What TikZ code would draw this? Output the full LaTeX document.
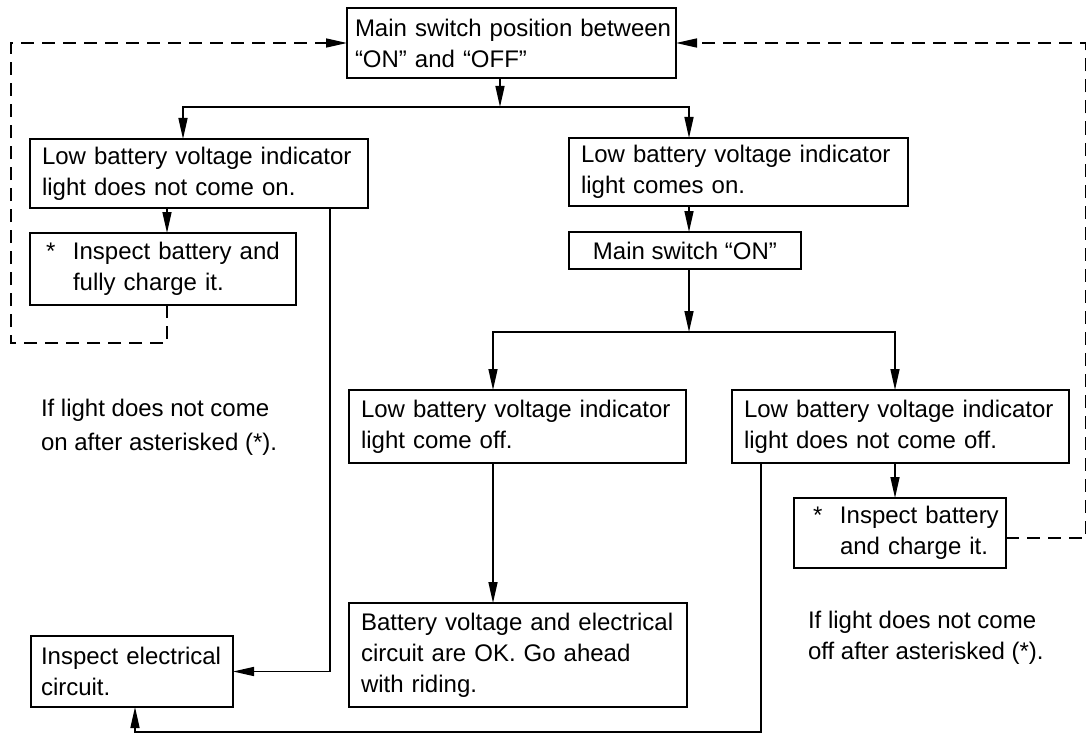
\documentclass[tikz,border=0pt]{standalone}
\usepackage{fontspec}
\setmainfont{Liberation Sans}
\usetikzlibrary{arrows.meta}
\tikzset{
every node/.style={font=\fontsize{24}{31}\selectfont, outer sep=0pt},
box/.style={rectangle, draw, line width=1.5pt, align=left, inner xsep=12pt, inner ysep=2pt},
arr/.style={line width=1.5pt, -{Triangle[length=21pt,width=9pt]}},
dasharr/.style={arr, dash pattern=on 13pt off 8pt}
}

\begin{document}
\begin{tikzpicture}[x=1pt, y=-1pt]
\useasboundingbox (0,0) rectangle (1086,733);

\node [box, text width=313pt, inner xsep=8pt, minimum height=70pt] (main) at (511.5,43) {\mbox{Main switch position between}\\``ON'' and ``OFF''};
\node [box, text width=314pt, minimum height=69pt] (noton) at (199,173.5) {Low battery voltage indicator\\light does not come on.};
\node [box, text width=242pt, minimum height=72pt] (chgA) at (163,269) {\hspace*{4pt}\makebox[27pt][l]{*}Inspect battery and\\\hspace*{31pt}fully charge it.};
\node [box, text width=315pt, minimum height=68pt] (comeson) at (738.5,172) {Low battery voltage indicator\\light comes on.};
\node [box, align=center, minimum width=232pt, minimum height=37pt] (swon) at (685,250.5) {Main switch ``ON''};
\node [box, text width=313pt, minimum height=73pt] (comeoff) at (517.5,426.5) {Low battery voltage indicator\\light come off.};
\node [box, text width=313pt, minimum height=73pt] (notoff) at (900.5,426.5) {Low battery voltage indicator\\light does not come off.};
\node [box, text width=200pt, inner xsep=6pt, minimum height=70pt] (chgB) at (900,533) {\hspace*{13pt}\makebox[27pt][l]{*}Inspect battery\\\hspace*{40pt}and charge it.};
\node [box, text width=314pt, minimum height=104pt] (okride) at (518,655) {Battery voltage and electrical\\circuit are OK. Go ahead\\with riding.};
\node [box, text width=182pt, inner xsep=10pt, minimum height=71pt] (elec) at (132,671.5) {Inspect electrical\\circuit.};
\node [anchor=north west, align=left, inner sep=0pt] (noteA) at (41,399) {If light does not come\\[3pt]on after asterisked (*).};
\node [anchor=north west, align=left, inner sep=0pt] (noteB) at (808,611) {If light does not come\\off after asterisked (*).};

\coordinate (j1) at (500,107);
\coordinate (j2) at (689,332);
\coordinate (loopA) at (11,343);
\coordinate (loopB) at (1085.5,538);
\coordinate (rbot) at (761,732);

\draw[arr] (main.south -| j1) -- (j1);
\draw[arr] (j1) -| ([xshift=-16pt]noton.north);
\draw[arr] (j1) -| ([xshift=-49.5pt]comeson.north);
\draw[arr] ([xshift=-32pt]noton.south) -- ([xshift=-32pt]noton.south |- chgA.north);
\draw[arr] ([xshift=131pt]noton.south) |- (elec.east);
\draw[dasharr] ([xshift=4pt]chgA.south) |- (loopA) |- (main.west);
\draw[arr] ([xshift=-49.5pt]comeson.south) -- ([xshift=-49.5pt]comeson.south |- swon.north);
\draw[arr] (swon.south -| j2) -- (j2);
\draw[arr] (j2) -| ([xshift=-24.5pt]comeoff.north);
\draw[arr] (j2) -| ([xshift=-5.5pt]notoff.north);
\draw[arr] ([xshift=-24.5pt]comeoff.south) -- ([xshift=-24.5pt]comeoff.south |- okride.north);
\draw[arr] ([xshift=-5.5pt]notoff.south) -- ([xshift=-5.5pt]notoff.south |- chgB.north);
\draw[arr] ([xshift=-139.5pt]notoff.south) -- (rbot) -| ([xshift=3pt]elec.south);
\draw[dasharr] ([yshift=-5pt]chgB.east) -- (loopB) |- (main.east);
\end{tikzpicture}
\end{document}
